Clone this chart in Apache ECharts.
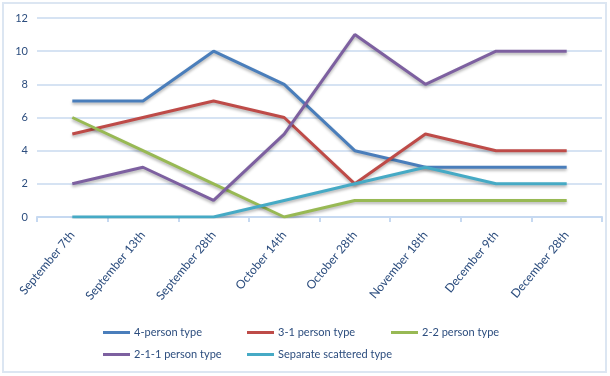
<!DOCTYPE html>
<html>
<head>
<meta charset="utf-8">
<script src="https://cdn.jsdelivr.net/npm/echarts@6/dist/echarts.min.js"></script>
<style>
  html, body { margin: 0; padding: 0; background: #fff; }
  #chart { width: 610px; height: 376px; }
</style>
</head>
<body>
<div id="chart"></div>
<script>
  // categories on the x axis
  let dates = ['September 7th', 'September 13th', 'September 28th', 'October 14th',
    'October 28th', 'November 18th', 'December 9th', 'December 28th'];

  let fourPerson = [7, 7, 10, 8, 4, 3, 3, 3];
  let threeOne = [5, 6, 7, 6, 2, 5, 4, 4];
  let twoTwo = [6, 4, 2, 0, 1, 1, 1, 1];
  let twoOneOne = [2, 3, 1, 5, 11, 8, 10, 10];
  let scattered = [0, 0, 0, 1, 2, 3, 2, 2];

  let names = ['4-person type', '3-1 person type', '2-2 person type', '2-1-1 person type', 'Separate scattered type'];
  let colors = ['#4a7ebb', '#be4b48', '#98b954', '#7d60a0', '#46aac5'];
  let values = [fourPerson, threeOne, twoTwo, twoOneOne, scattered];

  let textColor = '#2c4d7e';
  let font = 'Lato';

  // one legend per item so the columns line up like the original
  let legendPos = [
    {left: 98, top: 322},
    {left: 242, top: 322},
    {left: 386, top: 322},
    {left: 98, top: 344},
    {left: 242, top: 344}
  ];
  let legends = names.map((n, i) => ({
    data: [n],
    left: legendPos[i].left,
    top: legendPos[i].top,
    itemWidth: 27,
    itemHeight: 3,
    itemGap: 4,
    icon: 'rect',
    textStyle: {color: textColor, fontSize: 11, fontFamily: font, padding: [0, 0, 0, -1]}
  }));

  let series = names.map((n, i) => ({
    name: n,
    type: 'line',
    data: values[i],
    showSymbol: false,
    symbol: 'none',
    color: colors[i],
    lineStyle: {
      width: 3,
      color: colors[i],
      shadowColor: 'rgba(0,0,0,0.3)',
      shadowBlur: 3,
      shadowOffsetY: 2
    }
  }));

  let chart = echarts.init(document.getElementById('chart'));
  let option = {
    animation: false,
    backgroundColor: '#fff',
    graphic: [{
      type: 'rect',
      shape: {x: 3, y: 3, width: 603, height: 369},
      style: {fill: 'none', stroke: '#dce6f2', lineWidth: 2},
      silent: true
    }],
    legend: legends,
    grid: {left: 37, right: 8, top: 18, bottom: 159},
    xAxis: {
      type: 'category',
      data: dates,
      boundaryGap: true,
      axisLine: {lineStyle: {color: '#c6d9f1', width: 2}},
      axisTick: {show: true, length: 5, lineStyle: {color: '#c6d9f1', width: 2}},
      axisLabel: {
        rotate: 50,
        interval: 0,
        color: textColor,
        fontSize: 12,
        fontFamily: font,
        margin: 16
      }
    },
    yAxis: {
      type: 'value',
      min: 0,
      max: 12,
      interval: 2,
      axisLine: {show: false},
      axisTick: {show: false},
      splitLine: {lineStyle: {color: '#d6e3f3', width: 2}},
      axisLabel: {color: textColor, fontSize: 11, fontFamily: font, margin: 9}
    },
    series: series
  };
  chart.setOption(option);
</script>
</body>
</html>
